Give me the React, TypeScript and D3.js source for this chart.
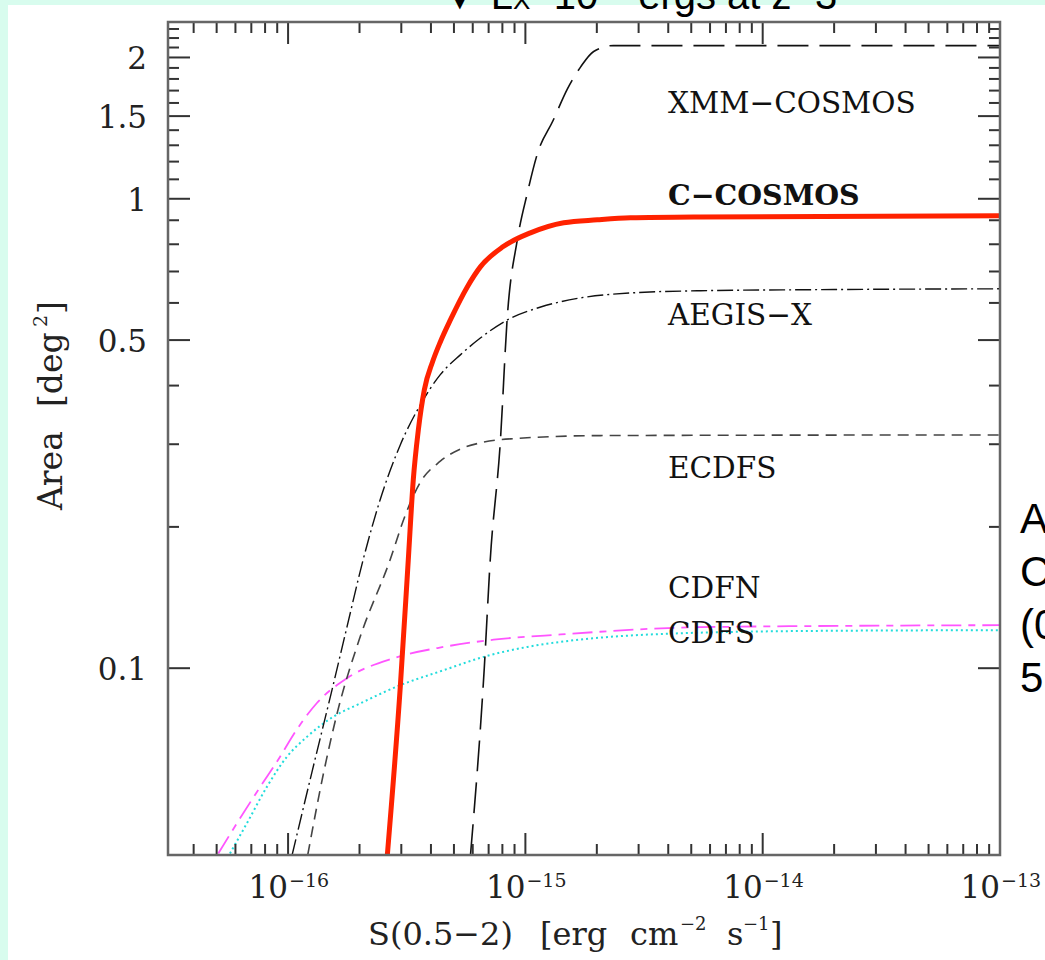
import React from "react";
import * as d3 from "d3";

const W = 1045;
const H = 960;

// axis domains
const X_DOMAIN: [number, number] = [Math.pow(10, -16.506), 1e-13];
const Y_DOMAIN: [number, number] = [0.04, 2.38];

// tick labels
const xTickValues = [1e-16, 1e-15, 1e-14, 1e-13];
const xTickExponents = ["−16", "−15", "−14", "−13"];
const yTickValues = [0.1, 0.5, 1, 1.5, 2];
const yTickLabels = ["0.1", "0.5", "1", "1.5", "2"];

// XMM-COSMOS
const xmmFlux = [5.87e-16, 6.71e-16, 7.11e-16, 7.85e-16, 8.39e-16, 9.25e-16, 1.02e-15, 1.125e-15, 1.31e-15, 1.5e-15, 1.71e-15, 1.94e-15, 2.35e-15, 1e-13];
const xmmArea = [0.04, 0.1, 0.17, 0.306, 0.56, 0.818, 1.03, 1.25, 1.47, 1.71, 1.91, 2.06, 2.12, 2.12];

// C-COSMOS
const ccFlux = [2.62e-16, 2.97e-16, 3.21e-16, 3.37e-16, 3.54e-16, 3.75e-16, 4.06e-16, 4.38e-16, 4.83e-16, 5.69e-16, 6.46e-16, 8.07e-16, 1.05e-15, 1.45e-15, 2.01e-15, 2.77e-15, 5.47e-15, 1e-13];
const ccArea = [0.04, 0.0911, 0.17, 0.252, 0.322, 0.3915, 0.449, 0.4955, 0.552, 0.649, 0.716, 0.791, 0.846, 0.889, 0.902, 0.911, 0.915, 0.92];

// AEGIS-X
const aegisFlux = [1.04e-16, 1.26e-16, 1.52e-16, 1.77e-16, 2.07e-16, 2.44e-16, 2.97e-16, 3.61e-16, 4.38e-16, 5.32e-16, 6.46e-16, 8.4e-16, 1.16e-15, 1.71e-15, 2.77e-15, 5.47e-15, 1.45e-14, 1e-13];
const aegisArea = [0.04, 0.06, 0.0885, 0.1223, 0.17, 0.228, 0.299, 0.364, 0.422, 0.465, 0.505, 0.552, 0.588, 0.615, 0.63, 0.637, 0.64, 0.643];

// ECDFS
const ecdfsFlux = [1.21e-16, 1.41e-16, 1.61e-16, 2.01e-16, 2.69e-16, 3.12e-16, 3.61e-16, 4.38e-16, 5.32e-16, 6.46e-16, 8.65e-16, 2.07e-15, 1e-13];
const ecdfsArea = [0.04, 0.0597, 0.0802, 0.1164, 0.17, 0.212, 0.249, 0.276, 0.293, 0.302, 0.308, 0.313, 0.314];

// CDFN
const cdfnFlux = [5.08e-17, 6.08e-17, 7.62e-17, 9.24e-17, 1.05e-16, 1.32e-16, 1.77e-16, 2.78e-16, 4.52e-16, 7.35e-16, 1.41e-15, 5.47e-15, 1e-13];
const cdfnArea = [0.0403, 0.0467, 0.0558, 0.0647, 0.072, 0.0842, 0.0952, 0.105, 0.111, 0.115, 0.118, 0.1223, 0.1235];

// CDFS
const cdfsFlux = [5.69e-17, 6.7e-17, 8.13e-17, 9.87e-17, 1.2e-16, 1.55e-16, 2.01e-16, 2.97e-16, 4.52e-16, 6.67e-16, 1.02e-15, 1.41e-15, 3.37e-15, 1.45e-14, 1e-13];
const cdfsArea = [0.0403, 0.0467, 0.0558, 0.0647, 0.0714, 0.0788, 0.0841, 0.092, 0.099, 0.1057, 0.111, 0.1138, 0.118, 0.12, 0.1205];

const curveLabels = ["XMM−COSMOS", "C−COSMOS", "AEGIS−X", "ECDFS", "CDFN", "CDFS"];

const rightTextLines = ["A", "C", "(0", "5"];

const LEFT = 168;
const RIGHT = 1000;
const TOP = 22;
const BOTTOM = 855;

const SERIF = "'DejaVu Serif', serif";
const SANS = "'Liberation Sans', Arial, sans-serif";

export default function App() {
  const x = d3.scaleLog().domain(X_DOMAIN).range([LEFT, RIGHT]);
  const y = d3.scaleLog().domain(Y_DOMAIN).range([BOTTOM, TOP]);

  const series = [
    { flux: cdfsFlux, area: cdfsArea, stroke: "#22dcdc", width: 2, dash: "2 3" },
    { flux: cdfnFlux, area: cdfnArea, stroke: "#ff55ff", width: 1.8, dash: "20 7 7 7" },
    { flux: ecdfsFlux, area: ecdfsArea, stroke: "#444", width: 1.6, dash: "11 7" },
    { flux: aegisFlux, area: aegisArea, stroke: "#111", width: 1.4, dash: "16 4 2 4" },
    { flux: xmmFlux, area: xmmArea, stroke: "#111", width: 1.6, dash: "31 11" },
    { flux: ccFlux, area: ccArea, stroke: "#ff2200", width: 5, dash: "none" },
  ];

  const line = d3
    .line<[number, number]>()
    .x((d) => x(d[0]))
    .y((d) => y(d[1]))
    .curve(d3.curveMonotoneX);

  // ticks
  const xMinor: number[] = [];
  for (let e = -17; e <= -14; e++) {
    for (let m = 2; m <= 9; m++) {
      const v = m * Math.pow(10, e);
      if (v >= X_DOMAIN[0] && v <= X_DOMAIN[1]) xMinor.push(v);
    }
  }
  const yMinor: number[] = d3
    .range(2, 24)
    .map((k) => k / 10)
    .filter((v) => Math.abs(v - 0.5) > 1e-6 && Math.abs(v - 1) > 1e-6 && Math.abs(v - 1.5) > 1e-6 && Math.abs(v - 2) > 1e-6);

  const MAJ = 22;
  const MIN = 11;
  const tickStroke = "#333";

  const labelY = [113, 205, 325, 478, 598, 643];

  return (
    <div style={{ position: "absolute", left: 0, top: 0, width: W, height: H }}>
      <svg width={W} height={H} style={{ display: "block" }}>
        <rect x={0} y={0} width={W} height={H} fill="#d8fcee" />
        <rect x={8} y={5} width={W - 8} height={H - 5} fill="#ffffff" />

        {/* cut-off slide title */}
        <text x={440} y={9} fontFamily={SANS} fontSize={40} fill="#000">
          ▼ L<tspan fontSize={26}>X</tspan>~10<tspan fontSize={26} dy={-14}>43</tspan>
          <tspan dy={14}> ergs at z~3</tspan>
        </text>

        {/* right side slide text */}
        {rightTextLines.map((t, i) => (
          <text key={t} x={1020} y={533 + i * 53} fontFamily={SANS} fontSize={42} fill="#000">
            {t}
          </text>
        ))}

        <defs>
          <clipPath id="plotClip">
            <rect x={LEFT} y={TOP} width={RIGHT - LEFT} height={BOTTOM - TOP} />
          </clipPath>
        </defs>

        {/* curves */}
        <g clipPath="url(#plotClip)">
          {series.map((s, i) => (
            <path
              key={i}
              d={line(s.flux.map((f, j) => [f, s.area[j]] as [number, number])) || ""}
              fill="none"
              stroke={s.stroke}
              strokeWidth={s.width}
              strokeDasharray={s.dash}
              strokeLinejoin="round"
            />
          ))}
        </g>

        {/* ticks */}
        <g stroke={tickStroke} strokeWidth={2}>
          {xTickValues.map((v) => (
            <g key={"xt" + v}>
              <line x1={x(v)} x2={x(v)} y1={BOTTOM} y2={BOTTOM - MAJ} />
              <line x1={x(v)} x2={x(v)} y1={TOP} y2={TOP + MAJ} />
            </g>
          ))}
          {xMinor.map((v) => (
            <g key={"xm" + v}>
              <line x1={x(v)} x2={x(v)} y1={BOTTOM} y2={BOTTOM - MIN} />
              <line x1={x(v)} x2={x(v)} y1={TOP} y2={TOP + MIN} />
            </g>
          ))}
          {yTickValues.map((v) => (
            <g key={"yt" + v}>
              <line x1={LEFT} x2={LEFT + MAJ} y1={y(v)} y2={y(v)} />
              <line x1={RIGHT} x2={RIGHT - MAJ} y1={y(v)} y2={y(v)} />
            </g>
          ))}
          {yMinor.map((v) => (
            <g key={"ym" + v}>
              <line x1={LEFT} x2={LEFT + MIN} y1={y(v)} y2={y(v)} />
              <line x1={RIGHT} x2={RIGHT - MIN} y1={y(v)} y2={y(v)} />
            </g>
          ))}
        </g>

        {/* frame */}
        <rect x={LEFT} y={TOP} width={RIGHT - LEFT} height={BOTTOM - TOP} fill="none" stroke="#666" strokeWidth={2.5} />

        {/* x tick labels */}
        {xTickValues.map((v, i) => (
          <g key={"xl" + v} fontFamily={SERIF} fill="#222">
            <text x={x(v)} y={898} fontSize={31} textAnchor="end">
              10
            </text>
            <text x={x(v) + 1} y={887} fontSize={19}>
              {xTickExponents[i]}
            </text>
          </g>
        ))}

        {/* y tick labels */}
        {yTickValues.map((v, i) => (
          <text key={"yl" + v} x={147} y={y(v) + 12} fontFamily={SERIF} fontSize={31} textAnchor="end" fill="#222">
            {yTickLabels[i]}
          </text>
        ))}

        {/* axis titles */}
        <g fontFamily={SERIF} fill="#222">
          <text x={368} y={945} fontSize={32}>S(0.5−2)</text>
          <text x={540} y={945} fontSize={32}>[erg</text>
          <text x={630} y={945} fontSize={32}>cm</text>
          <text x={680} y={930} fontSize={18}>−2</text>
          <text x={727} y={945} fontSize={32}>s</text>
          <text x={743} y={930} fontSize={18}>−1</text>
          <text x={770} y={945} fontSize={32}>]</text>
        </g>
        <g fontFamily={SERIF} fill="#222" transform="translate(62,510) rotate(-90)">
          <text x={0} y={0} fontSize={33}>Area</text>
          <text x={103} y={0} fontSize={33}>[deg</text>
          <text x={183} y={-15} fontSize={19}>2</text>
          <text x={196} y={0} fontSize={33}>]</text>
        </g>

        {/* curve labels */}
        {curveLabels.map((t, i) => (
          <text
            key={t}
            x={668}
            y={labelY[i]}
            fontFamily={SERIF}
            fontSize={i === 1 ? 28.5 : 29.5}
            fontWeight={i === 1 ? "bold" : "normal"}
            fill="#111"
          >
            {t}
          </text>
        ))}
      </svg>
    </div>
  );
}
